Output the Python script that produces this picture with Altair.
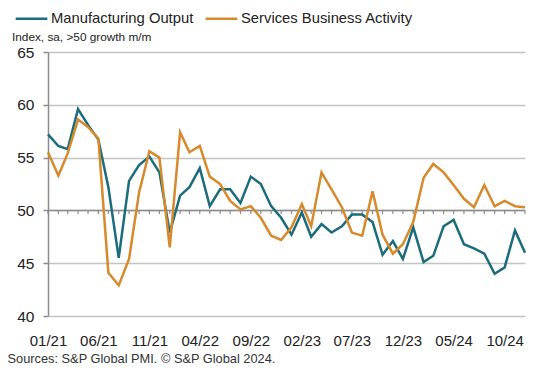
import altair as alt
import pandas as pd

months = pd.date_range("2021-01-01", "2024-12-01", freq="MS")

manufacturing = [57.2, 56.1, 55.8, 59.6, 58.1, 56.7, 52.2, 45.5, 52.8, 54.3, 55.1, 53.6,
                 47.9, 51.4, 52.2, 54.0, 50.4, 52.0, 52.0, 50.7, 53.2, 52.5, 50.4, 49.3,
                 47.7, 49.8, 47.5, 48.7, 47.9, 48.5, 49.6, 49.6, 48.9, 45.8, 47.1, 45.4,
                 48.4, 45.1, 45.7, 48.5, 49.1, 46.8, 46.4, 45.9, 44.0, 44.6, 48.1, 46.0]

services = [55.5, 53.3, 55.4, 58.6, 57.9, 56.8, 44.1, 42.9, 45.4, 51.7, 55.6, 55.0,
            46.5, 57.4, 55.5, 56.1, 53.2, 52.5, 50.9, 50.1, 50.4, 49.3, 47.6, 47.2,
            48.4, 50.6, 48.5, 53.6, 52.0, 50.3, 47.9, 47.6, 51.8, 47.7, 45.9, 46.8,
            48.9, 53.1, 54.4, 53.6, 52.4, 51.1, 50.3, 52.4, 50.4, 50.9, 50.4, 50.3]

series_names = ["Manufacturing Output", "Services Business Activity"]
series_colors = ["#1b6c7d", "#d68a2c"]
y_ticks = [40, 45, 50, 55, 60, 65]
x_label_dates = [alt.DateTime(year=d.year, month=d.month, date=1) for d in months[::5]]
subtitle_text = ["Index, sa, >50 growth m/m"]
source_text = "Sources: S&P Global PMI. \u00a9 S&P Global 2024."

FONT = "Liberation Sans"

df = pd.concat([
    pd.DataFrame({"month": months, "value": manufacturing, "series": series_names[0]}),
    pd.DataFrame({"month": months, "value": services, "series": series_names[1]}),
])
ticks_df = pd.DataFrame({"month": months, "top": 50.0, "bottom": 49.65})
line50_df = pd.DataFrame({"y": [50.0]})
subtitle_df = pd.DataFrame({"text": subtitle_text})

x_enc = alt.X(
    "month:T",
    scale=alt.Scale(domain=[alt.DateTime(year=2021, month=1, date=1),
                            alt.DateTime(year=2024, month=12, date=1)]),
    axis=alt.Axis(
        values=x_label_dates,
        labelExpr="timeFormat(datum.value, '%m/%y')",
        ticks=False, domain=False, grid=False,
        labelFontSize=15, labelColor="#222222", labelFont=FONT,
        labelPadding=17, labelFlush=False,
        title=source_text,
        titleFont=FONT, titleFontSize=12.8, titleFontWeight="normal",
        titleColor="#333333", titleAnchor="start", titleAlign="left",
        titleX=-41, titleY=42, titleBaseline="middle",
    ),
)

y_scale = alt.Scale(domain=[40, 65], nice=False, zero=False)

lines = alt.Chart(df).mark_line(strokeWidth=2.5).encode(
    x=x_enc,
    y=alt.Y("value:Q", scale=y_scale,
            axis=alt.Axis(values=y_ticks, title=None, grid=True,
                          gridColor="#c4c4c4", gridWidth=1.5,
                          domainColor="#8c8c8c", domainWidth=1.5,
                          tickColor="#8c8c8c", tickWidth=1.5, tickSize=5,
                          labelFontSize=15.5, labelColor="#222222", labelFont=FONT,
                          labelPadding=9)),
    color=alt.Color("series:N",
                    scale=alt.Scale(domain=series_names, range=series_colors),
                    legend=alt.Legend(orient="none", legendX=-34, legendY=-51,
                                      direction="horizontal", title=None,
                                      symbolType="stroke", symbolSize=1000,
                                      symbolStrokeWidth=2.5,
                                      labelFontSize=14.8, labelFont=FONT,
                                      labelColor="#222222", labelOffset=2,
                                      labelLimit=400, columnPadding=6)),
)

rule50 = alt.Chart(line50_df).mark_rule(color="#8c8c8c", strokeWidth=1.5).encode(
    y=alt.Y("y:Q", scale=y_scale),
)

month_ticks = alt.Chart(ticks_df).mark_rule(color="#8c8c8c", strokeWidth=1.2).encode(
    x=alt.X("month:T"),
    y=alt.Y("top:Q", scale=y_scale),
    y2="bottom:Q",
)

subtitle = alt.Chart(subtitle_df).mark_text(
    align="left", baseline="middle", font=FONT, fontSize=11.8, color="#222222",
).encode(
    x=alt.value(-36),
    y=alt.value(-15),
    text="text:N",
)

chart = alt.layer(rule50, month_ticks, lines, subtitle).properties(
    width=477,
    height=264,
    autosize=alt.AutoSizeParams(type="none"),
    padding={"left": 40, "top": 44, "right": 20, "bottom": 56},
).configure_view(stroke=None)

chart.save("out.html", embed_options={"renderer": "svg", "actions": False})
